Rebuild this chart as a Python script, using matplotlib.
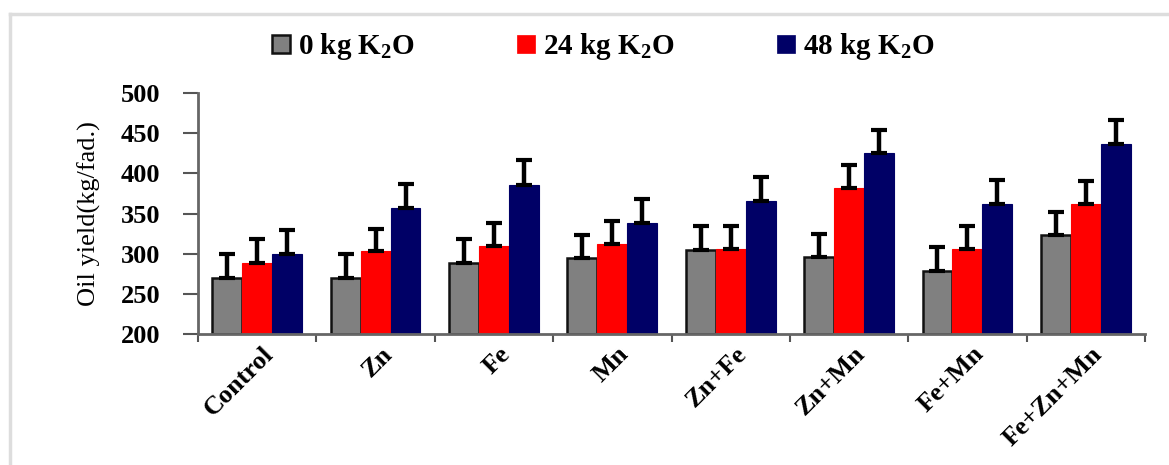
import numpy as np
import matplotlib.pyplot as plt
from matplotlib.lines import Line2D

categories = ["Control", "Zn", "Fe", "Mn", "Zn+Fe", "Zn+Mn", "Fe+Mn", "Fe+Zn+Mn"]
series_names = ["0 kg K$_\\mathbf{2}$O", "24 kg K$_\\mathbf{2}$O", "48 kg K$_\\mathbf{2}$O"]
k0 = [270, 270, 288, 294, 304, 296, 278, 323]
k24 = [289, 303, 309, 312, 306, 382, 306, 362]
k48 = [299, 357, 386, 338, 365, 425, 362, 437]
err0 = [30, 29, 30, 29, 30, 29, 30, 29]
err24 = [29, 28, 29, 29, 29, 28, 29, 29]
err48 = [30, 30, 30, 30, 30, 29, 30, 30]

colors = ["#808080", "#ff0000", "#000066"]
edges = ["#111111", "#ff0000", "#000066"]

plt.rcParams['font.family'] = ['Liberation Serif', 'DejaVu Serif']
plt.rcParams['mathtext.fontset'] = 'custom'
plt.rcParams['mathtext.bf'] = 'Liberation Serif:bold'
plt.rcParams['mathtext.rm'] = 'Liberation Serif'

fig = plt.figure(figsize=(11.69, 4.65), dpi=100)
ax = fig.add_axes([198 / 1169, 1 - 334 / 465, 947 / 1169, 241 / 465])

x = np.arange(len(categories))
w = 0.253
for i, (vals, errs) in enumerate(zip([k0, k24, k48], [err0, err24, err48])):
    pos = x + (i - 1) * w
    ax.bar(pos, [v - 200 for v in vals], w, bottom=200, color=colors[i],
           edgecolor=edges[i], linewidth=1.8 if i == 0 else 0.8, zorder=2)
    ax.errorbar(pos, vals, yerr=[np.zeros(len(errs)), errs], fmt='none',
                ecolor='black', elinewidth=3.2, capsize=5.5, capthick=3, zorder=3)

ax.set_xlim(-0.5, len(categories) - 0.5)
ax.set_ylim(200, 500)
ax.set_yticks(range(200, 501, 50))
ax.set_yticklabels([str(v) for v in range(200, 501, 50)], fontsize=19, fontweight='bold')
ax.set_xticks(np.arange(-0.5, len(categories), 1.0))
ax.set_xticklabels([])
ax.set_xticks(x + 0.04, minor=True)
ax.set_xticklabels(categories, minor=True, rotation=45, ha='right',
                   rotation_mode='anchor', fontsize=19, fontweight='bold')
ax.tick_params(axis='x', which='minor', length=0, pad=6)
ax.tick_params(axis='x', which='major', length=6, width=1.5, color='#555555', direction='out')
ax.tick_params(axis='y', length=11, width=1.5, color='#555555', pad=16)
ax.set_ylabel("Oil yield(kg/fad.)", fontsize=19, labelpad=14)

for side in ['top', 'right']:
    ax.spines[side].set_visible(False)
for side in ['left', 'bottom']:
    ax.spines[side].set_color('#666666')
    ax.spines[side].set_linewidth(2)

handles = [Line2D([], [], marker='s', linestyle='none', markersize=13,
                  markerfacecolor=colors[i], markeredgecolor='#111111' if i == 0 else colors[i],
                  markeredgewidth=1.8 if i == 0 else 0.5) for i in range(3)]
leg = fig.legend(handles, series_names, loc='center', bbox_to_anchor=(602 / 1169, 1 - 47 / 465),
                 ncol=3, frameon=False, handlelength=0.8, handletextpad=0.2, columnspacing=3.4,
                 prop={'size': 21, 'weight': 'bold'})

# light frame along the top and left of the figure
fig.add_artist(Line2D([10 / 1169, 10 / 1169], [0, 1 - 14 / 465], color='#dddddd', lw=2.5,
                      transform=fig.transFigure))
fig.add_artist(Line2D([10 / 1169, 1], [1 - 14 / 465, 1 - 14 / 465], color='#dddddd', lw=2.5,
                      transform=fig.transFigure))

fig.savefig("out.png", dpi=100)
